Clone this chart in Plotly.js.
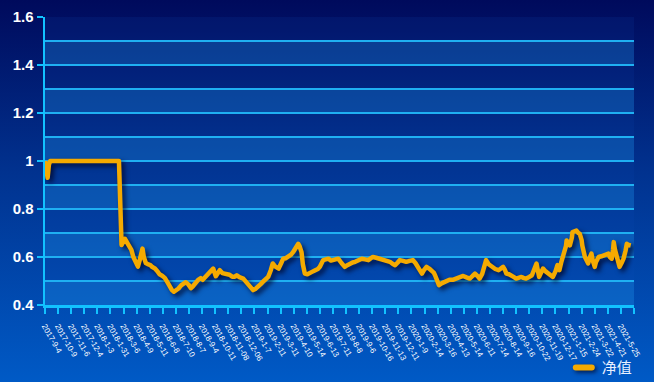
<!DOCTYPE html>
<html>
<head>
<meta charset="utf-8">
<script src="https://cdn.plot.ly/plotly-3.0.1.min.js"></script>
<style>
  html, body { margin: 0; padding: 0; }
  #chart {
    width: 654px; height: 382px;
    background: linear-gradient(to bottom, #000a5c 0%, #01328f 45%, #005ac6 100%);
  }
</style>
</head>
<body>
<div id="chart"></div>
<script>
// Tick labels (one every 20 trading days; final boundary tick has no label)
const dateLabels = ["2017-9-4","2017-10-9","2017-11-6","2017-12-4","2018-1-3","2018-1-31","2018-3-6","2018-4-9","2018-5-11","2018-6-8","2018-7-10","2018-8-7","2018-9-4","2018-10-11","2018-11-08","2018-12-06","2019-1-7","2019-2-11","2019-3-11","2019-4-10","2019-5-14","2019-6-13","2019-7-11","2019-8-8","2019-9-6","2019-10-16","2019-11-13","2019-12-11","2020-1-9","2020-2-14","2020-3-16","2020-4-13","2020-5-14","2020-6-11","2020-7-14","2020-8-14","2020-9-16","2020-10-22","2020-11-19","2020-12-17","2021-1-15","2021-2-24","2021-3-22","2021-4-21","2021-5-25"];
const labelStep = 20;
const axisEndDay = 900;

// Trading-day index and net value
const tradingDay = [0,2,4,6,8,113,115,116,117,122,125,128,132,135,140,142,145,147,149,151,154,157,161,164,168,172,175,179,183,187,190,194,197,200,204,208,212,215,219,223,226,230,234,238,241,246,250,254,257,261,264,267,271,275,279,282,286,290,293,297,303,307,311,315,318,322,326,330,333,337,341,345,348,352,357,361,364,368,372,376,379,383,387,389,392,394,397,401,404,408,413,417,420,423,425,429,433,437,440,444,448,453,458,462,466,470,474,478,484,489,494,498,501,506,511,515,520,524,527,531,535,539,542,547,552,557,562,566,570,573,576,579,583,587,591,594,596,599,602,606,611,615,618,623,629,634,639,644,649,653,657,661,664,668,671,674,678,683,688,693,697,700,703,705,709,713,716,720,724,728,731,735,740,744,747,751,753,755,758,761,765,769,773,776,780,783,785,786,789,793,796,797,800,802,805,806,809,812,815,817,820,821,825,827,830,832,835,837,840,842,846,850,853,857,861,863,866,868,869,871,874,876,878,881,884,887,889,892,895];
const netValue = [1.0,0.97,0.93,0.985,1.0,1.0,0.80,0.69,0.65,0.676,0.66,0.645,0.63,0.60,0.575,0.56,0.59,0.615,0.635,0.60,0.575,0.57,0.566,0.558,0.552,0.54,0.528,0.522,0.513,0.495,0.478,0.462,0.455,0.46,0.469,0.482,0.49,0.495,0.486,0.47,0.478,0.495,0.505,0.512,0.505,0.52,0.532,0.54,0.552,0.52,0.535,0.545,0.533,0.53,0.524,0.526,0.518,0.518,0.524,0.516,0.51,0.497,0.483,0.47,0.462,0.468,0.476,0.488,0.497,0.505,0.517,0.545,0.573,0.56,0.552,0.575,0.593,0.595,0.6,0.61,0.62,0.635,0.655,0.645,0.62,0.57,0.531,0.528,0.531,0.538,0.545,0.55,0.559,0.575,0.587,0.59,0.593,0.585,0.587,0.592,0.593,0.575,0.559,0.566,0.573,0.577,0.58,0.587,0.593,0.59,0.587,0.595,0.6,0.597,0.593,0.59,0.587,0.583,0.58,0.572,0.566,0.577,0.587,0.584,0.58,0.584,0.587,0.575,0.559,0.545,0.531,0.545,0.559,0.552,0.545,0.535,0.524,0.505,0.483,0.49,0.497,0.503,0.505,0.505,0.51,0.515,0.521,0.515,0.51,0.52,0.531,0.52,0.51,0.53,0.565,0.587,0.57,0.559,0.55,0.545,0.552,0.559,0.545,0.531,0.528,0.524,0.517,0.51,0.514,0.517,0.513,0.51,0.517,0.524,0.545,0.573,0.545,0.517,0.535,0.552,0.54,0.531,0.524,0.517,0.54,0.566,0.555,0.545,0.58,0.614,0.645,0.669,0.655,0.648,0.68,0.704,0.707,0.71,0.70,0.697,0.67,0.648,0.60,0.585,0.573,0.595,0.614,0.585,0.559,0.58,0.6,0.603,0.607,0.61,0.614,0.6,0.593,0.63,0.662,0.63,0.593,0.575,0.559,0.575,0.593,0.625,0.655,0.65,0.648];

const yTickVals = [0.4,0.6,0.8,1.0,1.2,1.4,1.6];
const yTickText = ["0.4","0.6","0.8","1","1.2","1.4","1.6"];
const bandStarts = [0.4,0.6,0.8,1.0,1.2,1.4];
const seriesName = "净值";

const axisCyan = "#12c2ff";
const gridCyan = "#1fb0f2";

const xTickVals = dateLabels.map((_, i) => i*labelStep).concat([axisEndDay]);
const xTickText = dateLabels.concat([""]);

const shapes = [];
bandStarts.forEach(b => {
  shapes.push({type:'rect', xref:'paper', x0:0, x1:1, yref:'y', y0:b, y1:b+0.1,
    fillcolor:'rgba(30,150,235,0.32)', line:{width:0}, layer:'below'});
  shapes.push({type:'rect', xref:'paper', x0:0, x1:1, yref:'y', y0:b+0.1, y1:b+0.2,
    fillcolor:'rgba(20,80,190,0.12)', line:{width:0}, layer:'below'});
});

const trace = {
  type:'scatter', mode:'lines', name: seriesName,
  x: tradingDay, y: netValue,
  line:{color:'#f5aa00', width:4.5}
};

const layout = {
  width:654, height:382,
  margin:{l:45, r:20, t:17, b:77, autoexpand:false},
  paper_bgcolor:'rgba(0,0,0,0)', plot_bgcolor:'rgba(0,0,0,0)',
  showlegend:true,
  legend:{orientation:'h', xref:'container', yref:'container',
    x:0.859, xanchor:'left', y:0.037, yanchor:'middle',
    font:{family:'Noto Sans CJK SC, sans-serif', size:15, color:'#e8f0ff'},
    bgcolor:'rgba(0,0,0,0)'},
  xaxis:{
    range:[0, axisEndDay],
    tickvals: xTickVals,
    ticktext: xTickText,
    tickangle:60,
    tickfont:{family:'Liberation Sans, Arial, sans-serif', size:8, color:'#ffffff'},
    ticks:'outside', ticklen:6, tickwidth:2, tickcolor:axisCyan,
    ticklabelstandoff:5,
    showline:true, linecolor:axisCyan, linewidth:2.5,
    showgrid:false, zeroline:false, fixedrange:true, automargin:false
  },
  yaxis:{
    range:[0.4,1.6],
    tickvals:yTickVals, ticktext:yTickText,
    tickfont:{family:'Liberation Sans, Arial, sans-serif', size:15, color:'#ffffff', weight:'bold'},
    ticks:'outside', ticklen:6, tickwidth:2.5, tickcolor:axisCyan,
    showline:true, linecolor:axisCyan, linewidth:2.5,
    showgrid:true, gridcolor:gridCyan, gridwidth:1.2,
    minor:{dtick:0.1, showgrid:true, gridcolor:gridCyan, gridwidth:1.2, ticks:''},
    zeroline:false, fixedrange:true, automargin:false
  },
  shapes: shapes
};

Plotly.newPlot('chart', [trace], layout, {staticPlot:true, displayModeBar:false}).then(gd => {
  gd.querySelectorAll('.scatterlayer .js-line').forEach(p => {
    p.style.filter = 'drop-shadow(3px 3px 2.5px rgba(0,0,30,0.75))';
    p.style.strokeLinejoin = 'round';
  });
  gd.querySelectorAll('.legendlines path').forEach(p => {
    p.setAttribute('d', 'M14,0h16');
    p.style.strokeLinecap = 'round';
    p.style.strokeWidth = '6px';
    p.style.filter = 'drop-shadow(2px 2px 2px rgba(0,0,30,0.7))';
  });
});
</script>
</body>
</html>
